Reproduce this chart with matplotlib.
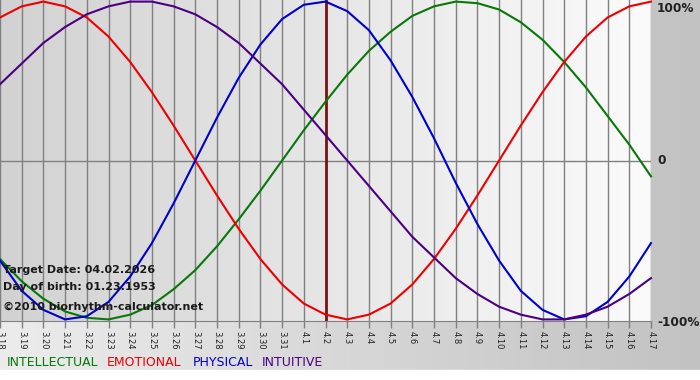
"""
Biorhythm chart for 04.02.2026, birth date 01.23.1953.
"""
import numpy as np
import matplotlib.pyplot as plt
from matplotlib.colors import LinearSegmentedColormap

# day labels along the bottom (3.18 .. 4.17)
day_labels = ["3.18", "3.19", "3.20", "3.21", "3.22", "3.23", "3.24", "3.25",
              "3.26", "3.27", "3.28", "3.29", "3.30", "3.31", "4.1", "4.2",
              "4.3", "4.4", "4.5", "4.6", "4.7", "4.8", "4.9", "4.10", "4.11",
              "4.12", "4.13", "4.14", "4.15", "4.16", "4.17"]
target_label = "4.2"

# cycle values, -1 .. 1, one per day
intellectual = [-0.62, -0.76, -0.87, -0.95, -0.99, -1.00, -0.97, -0.91, -0.81,
                -0.69, -0.54, -0.37, -0.19, 0.00, 0.19, 0.37, 0.54, 0.69, 0.81,
                0.91, 0.97, 1.00, 0.99, 0.95, 0.87, 0.76, 0.62, 0.46, 0.28,
                0.10, -0.10]
emotional = [0.90, 0.97, 1.00, 0.97, 0.90, 0.78, 0.62, 0.43, 0.22, 0.00, -0.22,
             -0.43, -0.62, -0.78, -0.90, -0.97, -1.00, -0.97, -0.90, -0.78,
             -0.62, -0.43, -0.22, 0.00, 0.22, 0.43, 0.62, 0.78, 0.90, 0.97,
             1.00]
physical = [-0.63, -0.82, -0.94, -1.00, -0.98, -0.89, -0.73, -0.52, -0.27,
            0.00, 0.27, 0.52, 0.73, 0.89, 0.98, 1.00, 0.94, 0.82, 0.63, 0.40,
            0.14, -0.14, -0.40, -0.63, -0.82, -0.94, -1.00, -0.98, -0.89,
            -0.73, -0.52]
intuitive = [0.48, 0.61, 0.74, 0.84, 0.92, 0.97, 1.00, 1.00, 0.97, 0.92, 0.84,
             0.74, 0.61, 0.48, 0.32, 0.16, 0.00, -0.16, -0.32, -0.48, -0.61,
             -0.74, -0.84, -0.92, -0.97, -1.00, -1.00, -0.97, -0.92, -0.84,
             -0.74]

series_names = ["INTELLECTUAL", "EMOTIONAL", "PHYSICAL", "INTUITIVE"]
series_colors = ["#087808", "#ee0000", "#0000d0", "#4b0082"]

W, H = 700, 380
fig = plt.figure(figsize=(W / 100, H / 100), dpi=100)

# outer background: light on the left, grey on the right
bg = fig.add_axes([0, 0, 1, 1])
bg.axis("off")
grad = np.linspace(0, 1, 256).reshape(1, -1)
bg.imshow(grad, aspect="auto", extent=[0, 1, 0, 1],
          cmap=LinearSegmentedColormap.from_list("outer", ["#ececec", "#c2c2c2"]))
bg.axhspan(0, 10 / H, color="white")
bg.set_xlim(0, 1)
bg.set_ylim(0, 1)

# plot area
plot_w, plot_h = 651, 321
ax = fig.add_axes([0, 1 - plot_h / H, plot_w / W, plot_h / H])
days = np.arange(len(day_labels))
ax.imshow(grad, aspect="auto", extent=[days[0], days[-1], -1.01, 1.01], zorder=0,
          cmap=LinearSegmentedColormap.from_list("inner", ["#d2d2d2", "#fbfbfb"]))
ax.set_xlim(days[0], days[-1])
ax.set_ylim(-1.01, 1.01)

for d in days:
    ax.axvline(d, color="#808080", lw=1, zorder=1)
ax.axhline(0, color="#808080", lw=1, zorder=1)

ax.axvline(day_labels.index(target_label), color="#7a1414", lw=2, zorder=2)

for vals, color in zip([intellectual, emotional, physical, intuitive], series_colors):
    ax.plot(days, vals, color=color, lw=1.5, zorder=3, clip_on=False,
            solid_joinstyle="round")

for side in ["top", "left", "right"]:
    ax.spines[side].set_visible(False)
ax.spines["bottom"].set_color("#808080")
ax.set_yticks([])
ax.set_xticks(days)
ax.set_xticklabels(day_labels, rotation=-90, fontsize=6, color="#202020")
ax.tick_params(axis="x", direction="out", length=5, width=1, color="#808080", pad=2)

# percentage labels on the right
for y_px, txt in [(8, "100%"), (161, "0"), (322, "-100%")]:
    fig.text(657 / W, 1 - y_px / H, txt, fontsize=8.7, fontweight="bold",
             color="#202020", va="center", ha="left")

# info text
for y_px, txt in [(270, "Target Date: 04.02.2026"), (287, "Day of birth: 01.23.1953"),
                  (307, "\u00a92010 biorhythm-calculator.net")]:
    fig.text(3 / W, 1 - y_px / H, txt, fontsize=8, fontweight="bold",
             color="#1a1a1a", va="center", ha="left")

# legend row
for x_px, name, color in zip([7, 107, 193, 262], series_names, series_colors):
    fig.text(x_px / W, 1 - 362 / H, name, fontsize=9, color=color,
             va="center", ha="left")

fig.savefig("out.png", dpi=100)
